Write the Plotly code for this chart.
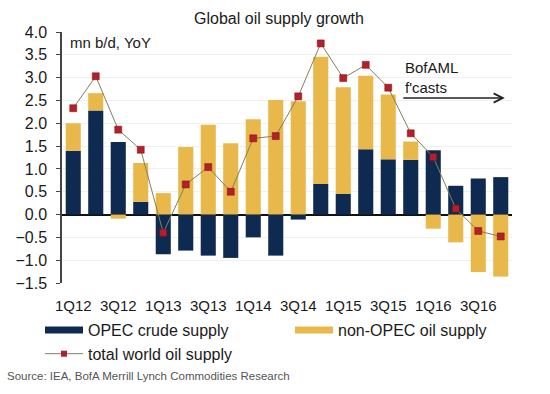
import plotly.graph_objects as go

quarters = ["1Q12", "2Q12", "3Q12", "4Q12", "1Q13", "2Q13", "3Q13", "4Q13",
            "1Q14", "2Q14", "3Q14", "4Q14", "1Q15", "2Q15", "3Q15", "4Q15",
            "1Q16", "2Q16", "3Q16", "4Q16"]
opec = [1.40, 2.28, 1.59, 0.28, -0.87, -0.79, -0.90, -0.95, -0.50, -0.90,
        -0.11, 0.67, 0.45, 1.43, 1.21, 1.20, 1.41, 0.63, 0.79, 0.82]
non_opec = [0.60, 0.38, -0.09, 0.85, 0.47, 1.48, 1.97, 1.56, 2.09, 2.51,
            2.48, 2.79, 2.34, 1.61, 1.42, 0.40, -0.31, -0.61, -1.26, -1.36]
total = [2.33, 3.03, 1.86, 1.42, -0.40, 0.66, 1.04, 0.50, 1.67, 1.72,
         2.59, 3.75, 2.99, 3.28, 2.78, 1.78, 1.26, 0.13, -0.36, -0.48]
year_bounds = [-0.5, 3.5, 7.5, 11.5, 15.5, 19.5]

idx = list(range(len(quarters)))
NAVY = "#0f2a50"
GOLD = "#e8b84a"
LINEC = "#7d8262"
RED = "#b3202a"
FONT = "Liberation Sans, Arial, sans-serif"

fig = go.Figure()
fig.add_trace(go.Bar(x=idx, y=opec, marker=dict(color=NAVY, line_width=0),
                     width=0.67, showlegend=False, name="OPEC crude supply"))
fig.add_trace(go.Bar(x=idx, y=non_opec, marker=dict(color=GOLD, line_width=0),
                     width=0.67, showlegend=False, name="non-OPEC oil supply"))
fig.add_trace(go.Scatter(x=idx, y=total, mode="lines+markers",
                         line=dict(color=LINEC, width=1),
                         marker=dict(symbol="square", size=7, color=RED,
                                     line=dict(color="#7a1010", width=0.5)),
                         showlegend=False, name="total world oil supply"))
# legend entries
fig.add_trace(go.Scatter(x=[None], y=[None], mode="lines", legend="legend",
                         line=dict(color=NAVY, width=7), name="OPEC crude supply"))
fig.add_trace(go.Scatter(x=[None], y=[None], mode="lines+markers", legend="legend",
                         line=dict(color=LINEC, width=1),
                         marker=dict(symbol="square", size=6, color=RED),
                         name="total world oil supply"))
fig.add_trace(go.Scatter(x=[None], y=[None], mode="lines", legend="legend2",
                         line=dict(color=GOLD, width=7), name="non-OPEC oil supply"))

ymin, ymax = -1.5, 4.0
zero_pos = (0 - ymin) / (ymax - ymin)
plot_h = 394 - 32 - 111

fig.update_layout(
    width=550, height=394,
    margin=dict(l=62, r=38, t=32, b=111, autoexpand=False),
    paper_bgcolor="white", plot_bgcolor="white",
    barmode="relative", bargap=0.33,
    font=dict(family=FONT, size=15, color="#1a1a1a"),
    title=dict(text="Global oil supply growth", xref="container", x=279 / 550,
               xanchor="center", y=1 - 18 / 394, yanchor="middle",
               font=dict(size=16, color="#1a1a1a")),
    xaxis=dict(range=[-0.5, 19.5], tickmode="array", tickvals=idx[::2],
               ticktext=quarters[::2], ticks="", showline=False, showgrid=False,
               zeroline=False, tickfont=dict(size=15), ticklabelstandoff=12),
    xaxis2=dict(overlaying="x", matches="x", anchor="free", position=zero_pos,
                tickmode="array", tickvals=year_bounds, ticktext=[""] * len(year_bounds),
                ticks="outside", ticklen=5, tickwidth=1.5, tickcolor="#222",
                showline=False, showgrid=False, zeroline=False, showticklabels=False),
    yaxis=dict(range=[ymin, ymax], dtick=0.5, tickformat=".1f", showline=True,
               linecolor="#444", linewidth=1.5, ticks="outside", ticklen=4,
               tickcolor="#444", gridcolor="#f0f0f0", zeroline=True,
               zerolinecolor="#111", zerolinewidth=1.5, tickfont=dict(size=16),
               ticklabelstandoff=6),
    legend=dict(orientation="v", x=(40 - 62) / 450, xanchor="left",
                y=-(313 - 283) / plot_h, yanchor="top",
                itemwidth=38, font=dict(size=16), tracegroupgap=0,
                bgcolor="rgba(0,0,0,0)"),
    legend2=dict(orientation="v", x=(290 - 62) / 450, xanchor="left",
                 y=-(313 - 283) / plot_h, yanchor="top",
                 itemwidth=38, font=dict(size=16), bgcolor="rgba(0,0,0,0)"),
)

fig.add_annotation(text="mn b/d, YoY", xref="paper", yref="paper", x=0.013, y=0.96,
                   xanchor="left", yanchor="middle", showarrow=False,
                   font=dict(size=15))
fig.add_annotation(text="BofAML<br>f'casts", xref="paper", yref="paper",
                   x=0.758, y=0.9, xanchor="left", yanchor="top", align="left",
                   showarrow=False, font=dict(size=15))
fig.add_annotation(text="", xref="paper", yref="paper", x=0.984, y=0.737,
                   ax=-103, ay=0, showarrow=True, arrowhead=5, arrowsize=1.2,
                   arrowwidth=1.5, arrowcolor="#222")
fig.add_annotation(text="Source: IEA, BofA Merrill Lynch Commodities Research",
                   xref="paper", yref="paper", x=-0.127, y=-(376 - 283) / plot_h,
                   xanchor="left", yanchor="middle", showarrow=False,
                   font=dict(size=11.5, color="#555"))

fig.write_html("out.html", config={"displayModeBar": False},
               post_script="document.body.style.margin='0';document.body.style.overflow='hidden';")
